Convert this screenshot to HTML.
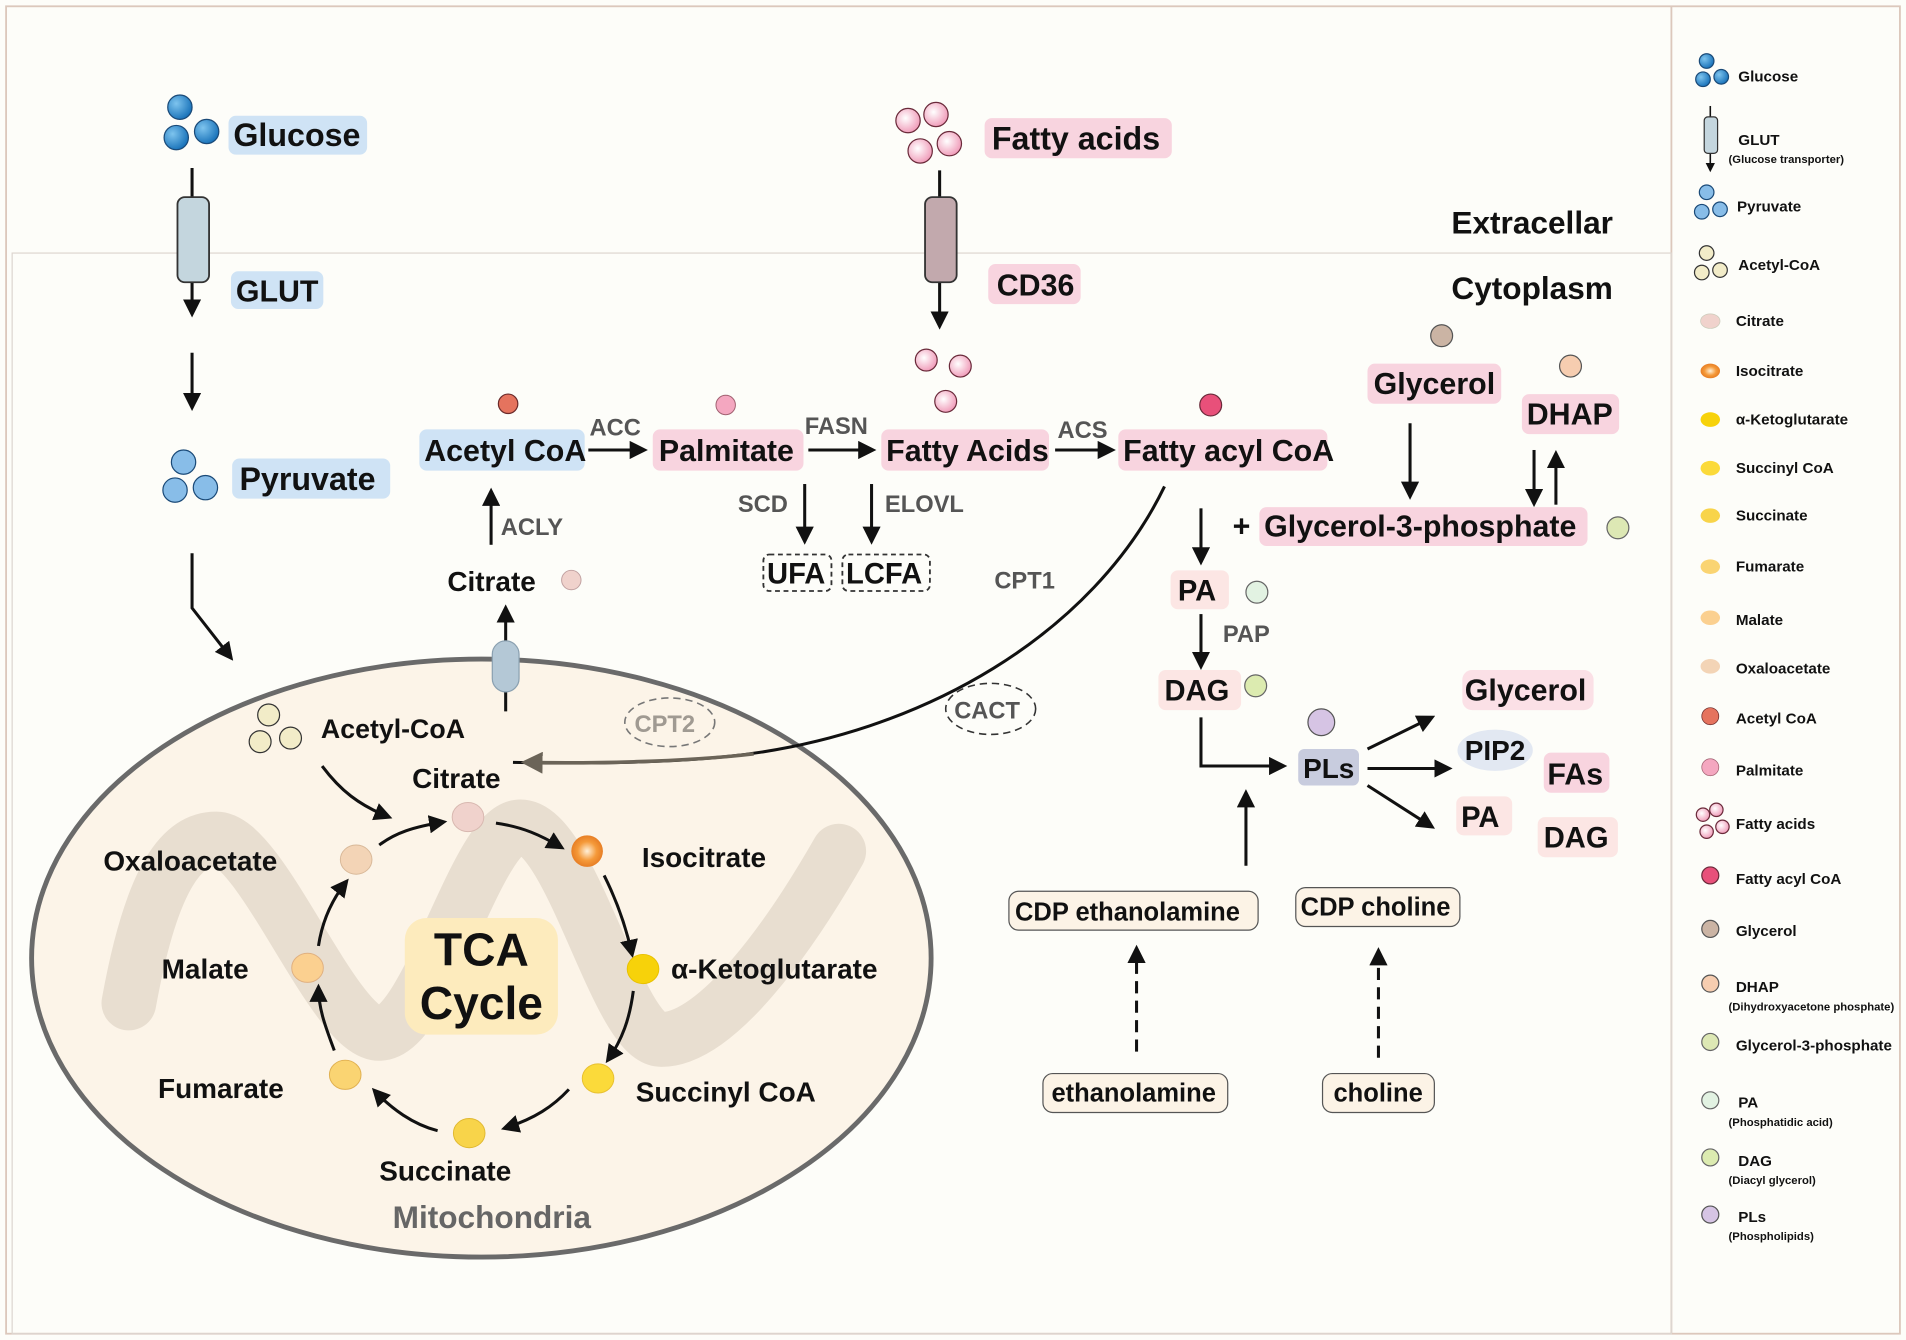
<!DOCTYPE html>
<html><head><meta charset="utf-8"><style>
html,body{margin:0;padding:0;background:#fdfdf9;}
svg{display:block;}
text{font-family:"Liberation Sans",sans-serif;font-weight:bold;fill:#111;}
.g{fill:#555;}
.lg{font-size:12.5px;}
.sm{font-size:9.3px;}
</style></head><body>
<svg width="1906" height="1340" viewBox="0 0 1568 1102" xmlns="http://www.w3.org/2000/svg">
<defs>
<marker id="ah" viewBox="0 0 10 10" refX="8" refY="5" markerWidth="6" markerHeight="6" orient="auto-start-reverse"><path d="M0,0 L10,5 L0,10 z" fill="#111"/></marker>
<marker id="ahg" viewBox="0 0 10 10" refX="8" refY="5" markerWidth="6" markerHeight="6" orient="auto"><path d="M0,0 L10,5 L0,10 z" fill="#6b6458"/></marker>
<radialGradient id="blue" cx="0.35" cy="0.35" r="0.7"><stop offset="0" stop-color="#7ec4ee"/><stop offset="1" stop-color="#1670b8"/></radialGradient>
<radialGradient id="orange" cx="0.5" cy="0.5" r="0.6"><stop offset="0" stop-color="#fff0d8"/><stop offset="0.5" stop-color="#f59a3a"/><stop offset="1" stop-color="#e0701a"/></radialGradient>
<radialGradient id="pink" cx="0.4" cy="0.4" r="0.7"><stop offset="0" stop-color="#fff"/><stop offset="1" stop-color="#ee8fb0"/></radialGradient>
</defs>
<rect x="0" y="0" width="1568" height="1102" fill="#fdfdf9"/>
<rect x="5" y="5" width="1558" height="1092" fill="none" stroke="#dcc8bc" stroke-width="1.5"/>
<line x1="1375" y1="5" x2="1375" y2="1097" stroke="#dcc8bc" stroke-width="1.5"/>
<rect x="10" y="208" width="1365" height="889" fill="none" stroke="#ddd6d0" stroke-width="1"/>

<circle cx="148" cy="88" r="10" fill="url(#blue)" stroke="#1a4a78"/>
<circle cx="145" cy="113" r="10" fill="url(#blue)" stroke="#1a4a78"/>
<circle cx="170" cy="108" r="10" fill="url(#blue)" stroke="#1a4a78"/>
<rect x="188" y="95" width="114" height="32" rx="6" fill="#cfe3f5"/>
<text x="192" y="120" font-size="26.5">Glucose</text>
<line x1="158" y1="138" x2="158" y2="258" stroke="#111" stroke-width="2.5" marker-end="url(#ah)"/>
<rect x="146" y="162" width="26" height="70" rx="6" fill="#c4d6de" stroke="#333" stroke-width="1.5"/>
<rect x="190" y="223" width="76" height="31" rx="6" fill="#cfe3f5"/>
<text x="194" y="248" font-size="25">GLUT</text>
<line x1="158" y1="290" x2="158" y2="335" stroke="#111" stroke-width="2.5" marker-end="url(#ah)"/>
<circle cx="151" cy="380" r="10" fill="#88bde8" stroke="#1a4a78"/>
<circle cx="144" cy="403" r="10" fill="#88bde8" stroke="#1a4a78"/>
<circle cx="169" cy="401" r="10" fill="#88bde8" stroke="#1a4a78"/>
<rect x="191" y="377" width="130" height="33" rx="6" fill="#cfe3f5"/>
<text x="197" y="403" font-size="26.5">Pyruvate</text>
<polyline points="158,455 158,500 190,541" fill="none" stroke="#111" stroke-width="2.5" marker-end="url(#ah)"/>

<circle cx="747" cy="99" r="10" fill="url(#pink)" stroke="#6a2a3a"/>
<circle cx="770" cy="94" r="10" fill="url(#pink)" stroke="#6a2a3a"/>
<circle cx="757" cy="124" r="10" fill="url(#pink)" stroke="#6a2a3a"/>
<circle cx="781" cy="118" r="10" fill="url(#pink)" stroke="#6a2a3a"/>
<rect x="810" y="97" width="154" height="33" rx="6" fill="#f8d4df"/>
<text x="816" y="123" font-size="26.5">Fatty acids</text>
<line x1="773" y1="140" x2="773" y2="268" stroke="#111" stroke-width="2.5" marker-end="url(#ah)"/>
<rect x="761" y="162" width="26" height="70" rx="6" fill="#c2a9ad" stroke="#333" stroke-width="1.5"/>
<rect x="813" y="217" width="76" height="33" rx="6" fill="#f8d4df"/>
<text x="820" y="243" font-size="25">CD36</text>
<circle cx="762" cy="296" r="9" fill="url(#pink)" stroke="#6a2a3a"/>
<circle cx="790" cy="301" r="9" fill="url(#pink)" stroke="#6a2a3a"/>
<circle cx="778" cy="330" r="9" fill="url(#pink)" stroke="#6a2a3a"/>

<text x="1194" y="192" font-size="26">Extracellar</text>
<text x="1194" y="246" font-size="26">Cytoplasm</text>

<circle cx="418" cy="332" r="8" fill="#e5735e" stroke="#6a2a2a"/>
<rect x="345" y="353" width="136" height="34" rx="6" fill="#cfe3f5"/>
<text x="349" y="379" font-size="25">Acetyl CoA</text>
<text x="485" y="358" font-size="19.5" class="g">ACC</text>
<line x1="484" y1="370" x2="530" y2="370" stroke="#111" stroke-width="2.5" marker-end="url(#ah)"/>
<circle cx="597" cy="333" r="8" fill="#f4a7c0" stroke="#a06070" stroke-width="0.8"/>
<rect x="537" y="353" width="124" height="34" rx="6" fill="#f8d4df"/>
<text x="542" y="379" font-size="25">Palmitate</text>
<text x="662" y="357" font-size="19.5" class="g">FASN</text>
<line x1="665" y1="370" x2="718" y2="370" stroke="#111" stroke-width="2.5" marker-end="url(#ah)"/>
<rect x="725" y="353" width="138" height="34" rx="6" fill="#f8d4df"/>
<text x="729" y="379" font-size="25">Fatty Acids</text>
<text x="870" y="360" font-size="19.5" class="g">ACS</text>
<line x1="868" y1="370" x2="915" y2="370" stroke="#111" stroke-width="2.5" marker-end="url(#ah)"/>
<circle cx="996" cy="333" r="9" fill="#e8507a" stroke="#6a2a3a"/>
<rect x="920" y="353" width="172" height="34" rx="6" fill="#f8d4df"/>
<text x="924" y="379" font-size="25">Fatty acyl CoA</text>

<text x="607" y="421" font-size="19.5" class="g">SCD</text>
<line x1="662" y1="398" x2="662" y2="445" stroke="#111" stroke-width="2.5" marker-end="url(#ah)"/>
<text x="728" y="421" font-size="19.5" class="g">ELOVL</text>
<line x1="717" y1="398" x2="717" y2="445" stroke="#111" stroke-width="2.5" marker-end="url(#ah)"/>
<rect x="628" y="456" width="56" height="30" rx="5" fill="#fdfdf9" stroke="#333" stroke-width="1.5" stroke-dasharray="4,3"/>
<text x="631" y="480" font-size="24">UFA</text>
<rect x="693" y="456" width="72" height="30" rx="5" fill="#fdfdf9" stroke="#333" stroke-width="1.5" stroke-dasharray="4,3"/>
<text x="696" y="480" font-size="24">LCFA</text>
<text x="818" y="484" font-size="19.5" class="g">CPT1</text>

<line x1="404" y1="448" x2="404" y2="404" stroke="#111" stroke-width="2.5" marker-end="url(#ah)"/>
<text x="412" y="440" font-size="19.5" class="g">ACLY</text>
<text x="368" y="486" font-size="23">Citrate</text>
<circle cx="470" cy="477" r="8" fill="#f0d2cc" stroke="#c0a0a0" stroke-width="0.8"/>

<ellipse cx="396" cy="788" rx="370" ry="246" fill="#fcf4e8" stroke="#6a6a6a" stroke-width="4"/>
<path d="M106,825 C125,720 150,690 178,690 C215,690 275,850 312,850 C352,850 392,680 428,680 C470,680 508,855 544,855 C590,855 650,770 690,700" fill="none" stroke="#e8ded0" stroke-width="45" stroke-linecap="round"/>
<line x1="416" y1="585" x2="416" y2="500" stroke="#111" stroke-width="2.5" marker-end="url(#ah)"/>
<rect x="405" y="527" width="22" height="42" rx="11" fill="#b4c8d6" stroke="#8aa0b0"/>

<path d="M958,400 C900,520 760,605 600,622 C540,628 470,628 422,627" fill="none" stroke="#111" stroke-width="2.5"/>
<path d="M620,620 C560,627 480,628 432,627" fill="none" stroke="#6b6458" stroke-width="3" marker-end="url(#ahg)"/>
<ellipse cx="551" cy="594" rx="37" ry="20" fill="none" stroke="#777" stroke-width="1.3" stroke-dasharray="6,4"/>
<text x="522" y="602" font-size="19.5" style="fill:#a09a92">CPT2</text>
<ellipse cx="815" cy="583" rx="37" ry="21" fill="none" stroke="#333" stroke-width="1.3" stroke-dasharray="6,4"/>
<text x="785" y="591" font-size="19.5" class="g">CACT</text>

<circle cx="221" cy="588" r="9" fill="#f2ecc8" stroke="#333"/>
<circle cx="214" cy="610" r="9" fill="#f2ecc8" stroke="#333"/>
<circle cx="239" cy="607" r="9" fill="#f2ecc8" stroke="#333"/>
<text x="264" y="607" font-size="22">Acetyl-CoA</text>
<path d="M265,630 C280,650 295,662 320,672" fill="none" stroke="#111" stroke-width="2.5" marker-end="url(#ah)"/>
<text x="339" y="648" font-size="23">Citrate</text>

<g fill="none" stroke="#111" stroke-width="2.5" marker-end="url(#ah)">
<path d="M408,677 C430,680 445,687 462,697"/>
<path d="M497,720 C508,742 515,762 520,785"/>
<path d="M521,815 C518,838 512,855 500,872"/>
<path d="M468,896 C455,910 440,920 415,928"/>
<path d="M360,930 C340,925 322,912 308,897"/>
<path d="M275,864 C268,845 262,830 262,812"/>
<path d="M262,778 C265,758 273,740 285,725"/>
<path d="M312,695 C325,685 340,680 365,676"/>
</g>
<ellipse cx="385" cy="672" rx="13" ry="12" fill="#f0d2cc" stroke="#d8b8b0" stroke-width="0.8"/>
<circle cx="483" cy="700" r="13" fill="url(#orange)"/>
<ellipse cx="529" cy="797" rx="13" ry="12" fill="#f7d20a" stroke="#e8c000" stroke-width="0.8"/>
<ellipse cx="492" cy="887" rx="13" ry="12" fill="#fbda3a" stroke="#e8c030" stroke-width="0.8"/>
<ellipse cx="386" cy="932" rx="13" ry="12" fill="#f8d44a" stroke="#e0b830" stroke-width="0.8"/>
<ellipse cx="284" cy="884" rx="13" ry="12" fill="#fad472" stroke="#e0b050" stroke-width="0.8"/>
<ellipse cx="253" cy="796" rx="13" ry="12" fill="#fbd090" stroke="#e0b080" stroke-width="0.8"/>
<ellipse cx="293" cy="707" rx="13" ry="12" fill="#f3d4b6" stroke="#d8b898" stroke-width="0.8"/>
<rect x="333" y="755" width="126" height="96" rx="18" fill="#fdebbd"/>
<text x="396" y="794" font-size="38" text-anchor="middle">TCA</text>
<text x="396" y="838" font-size="38" text-anchor="middle">Cycle</text>
<text x="528" y="713" font-size="23">Isocitrate</text>
<text x="552" y="805" font-size="23">α-Ketoglutarate</text>
<text x="523" y="906" font-size="23">Succinyl CoA</text>
<text x="312" y="971" font-size="23">Succinate</text>
<text x="130" y="903" font-size="23">Fumarate</text>
<text x="133" y="805" font-size="23">Malate</text>
<text x="85" y="716" font-size="23">Oxaloacetate</text>
<text x="323" y="1010" font-size="26" style="fill:#666">Mitochondria</text>

<circle cx="1186" cy="276" r="9" fill="#cbb4a4" stroke="#555"/>
<rect x="1125" y="299" width="110" height="33" rx="6" fill="#f8d4df"/>
<text x="1130" y="324" font-size="25">Glycerol</text>
<circle cx="1292" cy="301" r="9" fill="#f6cdb0" stroke="#555"/>
<rect x="1252" y="324" width="80" height="33" rx="6" fill="#f8d4df"/>
<text x="1256" y="349" font-size="25">DHAP</text>
<line x1="1160" y1="348" x2="1160" y2="408" stroke="#111" stroke-width="2.5" marker-end="url(#ah)"/>
<line x1="1262" y1="370" x2="1262" y2="414" stroke="#111" stroke-width="2.5" marker-end="url(#ah)"/>
<line x1="1280" y1="415" x2="1280" y2="373" stroke="#111" stroke-width="2.5" marker-end="url(#ah)"/>
<text x="1014" y="441" font-size="25">+</text>
<rect x="1036" y="417" width="270" height="32" rx="6" fill="#f8d4df"/>
<text x="1040" y="441" font-size="25">Glycerol-3-phosphate</text>
<circle cx="1331" cy="434" r="9" fill="#dde8b4" stroke="#666"/>
<line x1="988" y1="418" x2="988" y2="462" stroke="#111" stroke-width="2.5" marker-end="url(#ah)"/>
<rect x="963" y="469" width="48" height="32" rx="6" fill="#fce6e4"/>
<text x="969" y="494" font-size="24">PA</text>
<circle cx="1034" cy="487" r="9" fill="#e2f2e2" stroke="#666"/>
<line x1="988" y1="505" x2="988" y2="548" stroke="#111" stroke-width="2.5" marker-end="url(#ah)"/>
<text x="1006" y="528" font-size="19.5" class="g">PAP</text>
<rect x="953" y="551" width="68" height="33" rx="6" fill="#fce6e4"/>
<text x="958" y="576" font-size="24">DAG</text>
<circle cx="1033" cy="564" r="9" fill="#dcebb0" stroke="#666"/>
<polyline points="988,590 988,630 1056,630" fill="none" stroke="#111" stroke-width="2.5" marker-end="url(#ah)"/>
<circle cx="1087" cy="594" r="11" fill="#d6c4e4" stroke="#555"/>
<rect x="1068" y="616" width="50" height="30" rx="5" fill="#c8ccde"/>
<text x="1072" y="640" font-size="23">PLs</text>
<line x1="1125" y1="616" x2="1178" y2="590" stroke="#111" stroke-width="2.5" marker-end="url(#ah)"/>
<line x1="1125" y1="632" x2="1192" y2="632" stroke="#111" stroke-width="2.5" marker-end="url(#ah)"/>
<line x1="1125" y1="646" x2="1178" y2="680" stroke="#111" stroke-width="2.5" marker-end="url(#ah)"/>
<rect x="1203" y="551" width="108" height="33" rx="8" fill="#fbe0e6"/>
<text x="1205" y="576" font-size="25">Glycerol</text>
<ellipse cx="1230" cy="617" rx="31" ry="17" fill="#e2e8f2"/>
<text x="1205" y="625" font-size="23">PIP2</text>
<rect x="1270" y="619" width="54" height="33" rx="6" fill="#f8d4df"/>
<text x="1273" y="645" font-size="25">FAs</text>
<rect x="1198" y="655" width="46" height="32" rx="6" fill="#fce6e4"/>
<text x="1202" y="680" font-size="24">PA</text>
<rect x="1265" y="672" width="66" height="33" rx="6" fill="#fce6e4"/>
<text x="1270" y="697" font-size="24">DAG</text>
<line x1="1025" y1="712" x2="1025" y2="652" stroke="#111" stroke-width="2.5" marker-end="url(#ah)"/>
<rect x="830" y="733" width="205" height="32" rx="8" fill="#fcf3e6" stroke="#555" stroke-width="1"/>
<text x="835" y="757" font-size="21">CDP  ethanolamine</text>
<rect x="1066" y="730" width="135" height="32" rx="8" fill="#fcf3e6" stroke="#555" stroke-width="1"/>
<text x="1070" y="753" font-size="21">CDP choline</text>
<line x1="935" y1="865" x2="935" y2="780" stroke="#111" stroke-width="2.5" stroke-dasharray="10,6" marker-end="url(#ah)"/>
<line x1="1134" y1="870" x2="1134" y2="782" stroke="#111" stroke-width="2.5" stroke-dasharray="10,6" marker-end="url(#ah)"/>
<rect x="858" y="883" width="152" height="32" rx="8" fill="#fcf3e6" stroke="#555" stroke-width="1"/>
<text x="865" y="906" font-size="21">ethanolamine</text>
<rect x="1088" y="883" width="92" height="32" rx="8" fill="#fcf3e6" stroke="#555" stroke-width="1"/>
<text x="1097" y="906" font-size="21">choline</text>

<circle cx="1404" cy="50" r="6" fill="url(#blue)" stroke="#1a4a78"/>
<circle cx="1401" cy="65" r="6" fill="url(#blue)" stroke="#1a4a78"/>
<circle cx="1416" cy="63" r="6" fill="url(#blue)" stroke="#1a4a78"/>
<text x="1430" y="67" class="lg">Glucose</text>
<line x1="1407" y1="87" x2="1407" y2="140" stroke="#111" stroke-width="1.3" marker-end="url(#ah)"/>
<rect x="1402" y="96" width="11" height="30" rx="3" fill="#c4d6de" stroke="#333"/>
<text x="1430" y="119" class="lg">GLUT</text>
<text x="1422" y="134" class="sm">(Glucose transporter)</text>
<circle cx="1404" cy="158" r="6" fill="#88bde8" stroke="#1a4a78"/>
<circle cx="1400" cy="174" r="6" fill="#88bde8" stroke="#1a4a78"/>
<circle cx="1415" cy="172" r="6" fill="#88bde8" stroke="#1a4a78"/>
<text x="1429" y="174" class="lg">Pyruvate</text>
<circle cx="1404" cy="208" r="6" fill="#f2ecc8" stroke="#333"/>
<circle cx="1400" cy="224" r="6" fill="#f2ecc8" stroke="#333"/>
<circle cx="1415" cy="222" r="6" fill="#f2ecc8" stroke="#333"/>
<text x="1430" y="222" class="lg">Acetyl-CoA</text>
<g stroke-width="0.6">
<ellipse cx="1407" cy="264" rx="8" ry="6" fill="#f0d2cc" stroke="#ccb"/>
<ellipse cx="1407" cy="305" rx="8" ry="6" fill="url(#orange)"/>
<ellipse cx="1407" cy="345" rx="8" ry="6" fill="#f7d20a"/>
<ellipse cx="1407" cy="385" rx="8" ry="6" fill="#fbda3a"/>
<ellipse cx="1407" cy="424" rx="8" ry="6" fill="#f8d44a"/>
<ellipse cx="1407" cy="466" rx="8" ry="6" fill="#fad472"/>
<ellipse cx="1407" cy="508" rx="8" ry="6" fill="#fbd090"/>
<ellipse cx="1407" cy="548" rx="8" ry="6" fill="#f3d4b6"/>
<circle cx="1407" cy="589" r="7" fill="#e5735e" stroke="#6a2a2a"/>
<circle cx="1407" cy="631" r="7" fill="#f4a7c0" stroke="#a06070"/>
</g>
<text x="1428" y="268" class="lg">Citrate</text>
<text x="1428" y="309" class="lg">Isocitrate</text>
<text x="1428" y="349" class="lg">α-Ketoglutarate</text>
<text x="1428" y="389" class="lg">Succinyl CoA</text>
<text x="1428" y="428" class="lg">Succinate</text>
<text x="1428" y="470" class="lg">Fumarate</text>
<text x="1428" y="514" class="lg">Malate</text>
<text x="1428" y="554" class="lg">Oxaloacetate</text>
<text x="1428" y="595" class="lg">Acetyl CoA</text>
<text x="1428" y="638" class="lg">Palmitate</text>
<circle cx="1401" cy="670" r="5.5" fill="url(#pink)" stroke="#6a2a3a"/>
<circle cx="1412" cy="666" r="5.5" fill="url(#pink)" stroke="#6a2a3a"/>
<circle cx="1404" cy="684" r="5.5" fill="url(#pink)" stroke="#6a2a3a"/>
<circle cx="1417" cy="680" r="5.5" fill="url(#pink)" stroke="#6a2a3a"/>
<text x="1428" y="682" class="lg">Fatty acids</text>
<circle cx="1407" cy="720" r="7" fill="#e8507a" stroke="#6a2a3a"/>
<text x="1428" y="727" class="lg">Fatty acyl CoA</text>
<circle cx="1407" cy="764" r="7" fill="#cbb4a4" stroke="#555"/>
<text x="1428" y="770" class="lg">Glycerol</text>
<circle cx="1407" cy="809" r="7" fill="#f6cdb0" stroke="#555"/>
<text x="1428" y="816" class="lg">DHAP</text>
<text x="1422" y="831" class="sm">(Dihydroxyacetone phosphate)</text>
<circle cx="1407" cy="857" r="7" fill="#dde8b4" stroke="#666"/>
<text x="1428" y="864" class="lg">Glycerol-3-phosphate</text>
<circle cx="1407" cy="905" r="7" fill="#e2f2e2" stroke="#666"/>
<text x="1430" y="911" class="lg">PA</text>
<text x="1422" y="926" class="sm">(Phosphatidic acid)</text>
<circle cx="1407" cy="952" r="7" fill="#dcebb0" stroke="#666"/>
<text x="1430" y="959" class="lg">DAG</text>
<text x="1422" y="974" class="sm">(Diacyl glycerol)</text>
<circle cx="1407" cy="999" r="7" fill="#d6c4e4" stroke="#555"/>
<text x="1430" y="1005" class="lg">PLs</text>
<text x="1422" y="1020" class="sm">(Phospholipids)</text>
</svg>
</body></html>
